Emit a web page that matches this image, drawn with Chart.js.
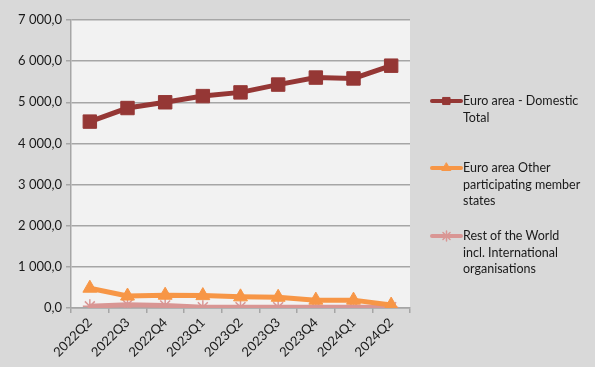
<!DOCTYPE html>
<html>
<head>
<meta charset="utf-8">
<script src="https://cdn.jsdelivr.net/npm/chart.js@4"></script>
<style>
  body { margin: 0; background: #d9d9d9; }
  #wrap { position: relative; width: 595px; height: 367px; }
  #legend { position: absolute; left: 430px; top: 0; font-family: Lato, "Open Sans", sans-serif; font-size: 12.5px; color: #1a1a1a; }
  .item { position: absolute; left: 0; width: 165px; display: flex; align-items: flex-start; }
  .item canvas { flex: none; width: 33px; height: 14px; margin-top: 1px; }
  .item span { line-height: 16.5px; }
</style>
</head>
<body>
<div id="wrap">
  <canvas id="grafico" width="595" height="367"></canvas>
  <div id="legend"></div>
</div>
<script>
// Trimestres e valores
const trimestres = ["2022Q2", "2022Q3", "2022Q4", "2023Q1", "2023Q2", "2023Q3", "2023Q4", "2024Q1", "2024Q2"];
const domestico = [4530, 4860, 5000, 5150, 5240, 5430, 5600, 5580, 5890];
const outrosMembros = [480, 290, 310, 300, 270, 260, 190, 190, 70];
const restoMundo = [40, 80, 60, 20, 20, 20, 20, 20, 20];
const rotulosEixoY = [0, 1000, 2000, 3000, 4000, 5000, 6000, 7000];

const nomes = ["Euro area - Domestic Total", "Euro area Other participating member states", "Rest of the World incl. International organisations"];
const legendaLinhas = [
    ["Euro area - Domestic", "Total"],
    ["Euro area Other", "participating member", "states"],
    ["Rest of the World", "incl. International", "organisations"],
];
const legendaTopo = [93, 160, 228];

const fonte = "Lato, 'Open Sans', sans-serif";

function formatar(v) {
    const s = Math.round(v).toString().replace(/\B(?=(\d{3})+(?!\d))/g, " ");
    return s + ",0";
}

const fundoPlot = {
    id: "fundoPlot",
    beforeDraw(chart) {
        const { ctx, chartArea: a } = chart;
        ctx.save();
        ctx.fillStyle = "#f2f2f2";
        ctx.fillRect(a.left, a.top, a.right - a.left, a.bottom - a.top);
        ctx.restore();
    },
};

const series = [
    { label: nomes[0], data: domestico, cor: "#953735", estilo: "rect", raio: 9.5, borda: 1 },
    { label: nomes[1], data: outrosMembros, cor: "#f79646", estilo: "triangle", raio: 8, borda: 1 },
    { label: nomes[2], data: restoMundo, cor: "#d99694", estilo: "star", raio: 7, borda: 1.5 },
];

const ctx = document.getElementById("grafico").getContext("2d");
const grafico = new Chart(ctx, {
    type: "line",
    data: {
        labels: trimestres,
        datasets: series.map((s) => ({
            label: s.label,
            data: s.data,
            borderColor: s.cor,
            backgroundColor: s.cor,
            borderWidth: 5,
            pointStyle: s.estilo,
            pointRadius: s.raio,
            pointBorderColor: s.cor,
            pointBackgroundColor: s.cor,
            pointBorderWidth: s.borda,
            tension: 0,
        })),
    },
    options: {
        responsive: false,
        animation: false,
        layout: { padding: { top: 20, right: 185, left: 0, bottom: 5 } },
        plugins: {
            legend: { display: false },
            tooltip: { enabled: false },
        },
        scales: {
            y: {
                min: 0,
                max: 7000,
                afterFit: (scale) => { scale.width = 71; },
                afterBuildTicks: (scale) => { scale.ticks = rotulosEixoY.map((v) => ({ value: v })); },
                ticks: {
                    callback: (v) => formatar(v),
                    color: "#1a1a1a",
                    font: { family: fonte, size: 13 },
                    padding: 4,
                },
                grid: { color: "#a6a6a6", lineWidth: 1.5, tickLength: 5 },
                border: { color: "#a6a6a6", width: 1.5 },
            },
            x: {
                offset: true,
                ticks: {
                    minRotation: 45,
                    maxRotation: 45,
                    color: "#1a1a1a",
                    font: { family: fonte, size: 13 },
                    padding: 2,
                },
                grid: { offset: true, drawOnChartArea: false, color: "#a6a6a6", lineWidth: 1.5, tickLength: 5 },
                border: { color: "#a6a6a6", width: 1.5 },
            },
        },
    },
    plugins: [fundoPlot],
});

// Legenda em HTML com o símbolo de cada série
const legenda = document.getElementById("legend");
series.forEach((s, i) => {
    const item = document.createElement("div");
    item.className = "item";
    item.style.top = legendaTopo[i] + "px";
    const c = document.createElement("canvas");
    c.width = 33;
    c.height = 14;
    const g = c.getContext("2d");
    g.strokeStyle = s.cor;
    g.fillStyle = s.cor;
    g.lineWidth = 4;
    g.lineCap = "round";
    g.beginPath();
    g.moveTo(2, 7);
    g.lineTo(31, 7);
    g.stroke();
    g.lineWidth = s.borda;
    Chart.helpers.drawPoint(g, { pointStyle: s.estilo, radius: 5, borderWidth: s.borda }, 16.5, 7);
    item.appendChild(c);
    const t = document.createElement("span");
    t.innerHTML = legendaLinhas[i].join("<br>");
    item.appendChild(t);
    legenda.appendChild(item);
});
</script>
</body>
</html>
